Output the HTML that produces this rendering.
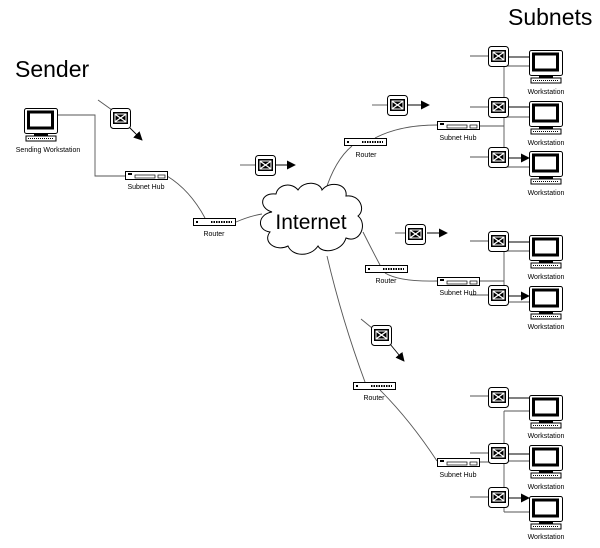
<!DOCTYPE html>
<html><head><style>html,body{margin:0;padding:0;background:#fff}svg{display:block}text{font-family:"Liberation Sans",Arial,sans-serif}</style></head>
<body>
<svg width="600" height="548" viewBox="0 0 600 548" xmlns="http://www.w3.org/2000/svg">
<defs>
<g id="mon">
<rect x="0.5" y="0.5" width="33" height="25" rx="2" fill="#fff" stroke="#000"/>
<rect x="4.5" y="4" width="24" height="16" fill="#fff" stroke="#000" stroke-width="3"/>
<rect x="10" y="26" width="14" height="2" fill="#000"/>
<rect x="2" y="28" width="30" height="5" fill="#fff" stroke="#000"/>
<line x1="4" y1="30.5" x2="30" y2="30.5" stroke="#000" stroke-dasharray="1,1"/>
</g>
<g id="env">
<rect x="0.5" y="0.5" width="20" height="20" rx="3" fill="#fff" stroke="#000"/>
<rect x="3" y="4" width="15" height="12" fill="#000"/>
<rect x="5" y="6" width="11" height="8" fill="none" stroke="#fff" stroke-width="1"/>
<path d="M5.5 6.5 L15.5 13.5 M15.5 6.5 L5.5 13.5" stroke="#fff" stroke-width="1.3"/>
</g>
<g id="hub">
<rect x="0.5" y="0.5" width="42" height="8" fill="#fff" stroke="#000"/>
<rect x="3" y="2" width="4" height="2" fill="#000"/>
<rect x="10" y="4" width="20" height="3" fill="none" stroke="#000" stroke-width="0.7"/>
<rect x="33" y="4" width="7" height="3" fill="none" stroke="#000" stroke-width="0.7"/>
</g>
<g id="rtr">
<rect x="0.5" y="0.5" width="42" height="7" fill="#fff" stroke="#000"/>
<rect x="3" y="3" width="2" height="2" fill="#000"/>
<line x1="18" y1="4" x2="39" y2="4" stroke="#000" stroke-width="2" stroke-dasharray="1.5,1"/>
</g>
<marker id="ah" viewBox="0 0 10 10" refX="9" refY="5" markerWidth="9" markerHeight="9" markerUnits="userSpaceOnUse" orient="auto"><path d="M0 0 L10 5 L0 10z" fill="#000"/></marker>
</defs>

<text x="15" y="77" font-size="23">Sender</text>
<text x="508" y="25" font-size="23">Subnets</text>

<g fill="none" stroke="#555" stroke-width="0.9">
<path d="M58 115 H95 V176 H125"/>
<path d="M167 176 Q190 190 205 218"/>
<path d="M236 222 Q250 216 262 214"/>
<path d="M325 192 Q335 160 352 146"/>
<path d="M375 138 Q400 125 437 125"/>
<path d="M479 126 H504"/>
<path d="M363 232 Q372 250 380 265"/>
<path d="M385 273 Q400 282 437 281"/>
<path d="M479 281 H504"/>
<path d="M327 256 Q342 320 365 382"/>
<path d="M380 390 Q410 420 437 461"/>
<path d="M479 462 H504"/>
<path d="M504 67 V167"/>
<path d="M504 251 V296"/>
<path d="M504 411 V512"/>
<path d="M504 66 H530 M504 117 H530 M504 167 H530"/>
<path d="M504 251 H530 M504 302 H530"/>
<path d="M504 411 H530 M504 461 H530 M504 512 H530"/>
<path d="M470 56 H488 M470 107 H488 M470 157 H488"/>
<path d="M470 241 H488 M470 295 H488"/>
<path d="M470 396 H488 M470 453 H488 M470 497 H488"/>
<path d="M98 100 L112 110"/>
<path d="M240 165 H255"/>
<path d="M372 105 H387"/>
<path d="M395 233 H405"/>
<path d="M361 319 L372 328"/>
</g>
<g stroke="#000" stroke-width="0.9" marker-end="url(#ah)">
<path d="M508 57 H529 M508 107 H529 M508 158 H529"/>
<path d="M508 242 H529 M508 296 H529"/>
<path d="M508 398 H529 M508 454 H529 M508 498 H529"/>
<path d="M130 128 L142 140"/>
<path d="M276 165 H295"/>
<path d="M408 105 H429"/>
<path d="M427 233 H447"/>
<path d="M390 344 L404 361"/>
</g>

<path d="M272 212 C258 208 260 192 276 194 C278 184 292 182 298 190 C304 180 320 182 322 190 C330 180 348 184 346 196 C360 194 366 210 358 216 C368 224 360 244 346 238 C342 252 322 254 318 246 C310 258 292 256 288 246 C276 252 262 242 270 232 C256 230 258 214 272 212 Z" fill="#fff" stroke="#000" stroke-width="1"/>
<text x="311" y="229" font-size="21" text-anchor="middle">Internet</text>

<use href="#mon" x="24" y="108"/>
<text x="48" y="152" font-size="7" text-anchor="middle">Sending Workstation</text>
<use href="#hub" x="125" y="171"/><text x="146" y="189" font-size="7" text-anchor="middle">Subnet Hub</text>
<use href="#rtr" x="193" y="218"/><text x="214" y="236" font-size="7" text-anchor="middle">Router</text>
<use href="#rtr" x="344" y="138"/><text x="366" y="157" font-size="7" text-anchor="middle">Router</text>
<use href="#hub" x="437" y="121"/><text x="458" y="140" font-size="7" text-anchor="middle">Subnet Hub</text>
<use href="#rtr" x="365" y="265"/><text x="386" y="283" font-size="7" text-anchor="middle">Router</text>
<use href="#hub" x="437" y="277"/><text x="458" y="295" font-size="7" text-anchor="middle">Subnet Hub</text>
<use href="#rtr" x="353" y="382"/><text x="374" y="400" font-size="7" text-anchor="middle">Router</text>
<use href="#hub" x="437" y="458"/><text x="458" y="477" font-size="7" text-anchor="middle">Subnet Hub</text>

<use href="#env" x="110" y="108"/>
<use href="#env" x="255" y="155"/>
<use href="#env" x="387" y="95"/>
<use href="#env" x="405" y="224"/>
<use href="#env" x="371" y="325"/>

<use href="#env" x="488" y="46"/><use href="#env" x="488" y="97"/><use href="#env" x="488" y="147"/>
<use href="#env" x="488" y="231"/><use href="#env" x="488" y="285"/>
<use href="#env" x="488" y="387"/><use href="#env" x="488" y="443"/><use href="#env" x="488" y="487"/>

<use href="#mon" x="529" y="50"/><text x="546" y="94" font-size="7" text-anchor="middle">Workstation</text>
<use href="#mon" x="529" y="101"/><text x="546" y="145" font-size="7" text-anchor="middle">Workstation</text>
<use href="#mon" x="529" y="151"/><text x="546" y="195" font-size="7" text-anchor="middle">Workstation</text>
<use href="#mon" x="529" y="235"/><text x="546" y="279" font-size="7" text-anchor="middle">Workstation</text>
<use href="#mon" x="529" y="286"/><text x="546" y="329" font-size="7" text-anchor="middle">Workstation</text>
<use href="#mon" x="529" y="395"/><text x="546" y="438" font-size="7" text-anchor="middle">Workstation</text>
<use href="#mon" x="529" y="445"/><text x="546" y="489" font-size="7" text-anchor="middle">Workstation</text>
<use href="#mon" x="529" y="496"/><text x="546" y="539" font-size="7" text-anchor="middle">Workstation</text>
</svg>
</body></html>
